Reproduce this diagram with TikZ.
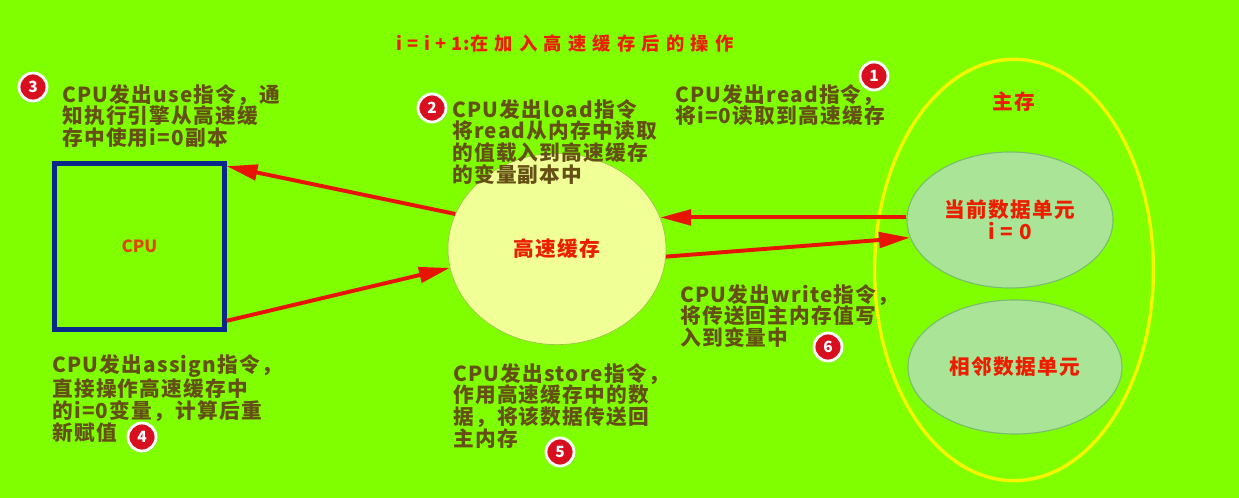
\documentclass[tikz,border=0pt]{standalone}
\usepackage{fontspec}
\setmainfont{Noto Sans CJK SC}
\newfontfamily\cjk[LetterSpace=6]{Noto Sans CJK SC}
\newfontfamily\cjkwide[LetterSpace=34]{Noto Sans CJK SC}
\usetikzlibrary{shapes,arrows.meta,positioning,shadows}
\definecolor{bggreen}{RGB}{128,255,0}
\definecolor{notebrown}{RGB}{100,80,20}
\definecolor{labelred}{RGB}{235,30,0}
\definecolor{arrowred}{RGB}{230,20,0}
\definecolor{numred}{RGB}{215,15,30}
\definecolor{cpuorange}{RGB}{220,70,0}
\definecolor{cpublue}{RGB}{10,40,140}
\definecolor{cachefill}{RGB}{240,255,150}
\definecolor{cacheborder}{RGB}{150,190,70}
\definecolor{cellfill}{RGB}{170,228,150}
\definecolor{cellborder}{RGB}{120,190,110}
\definecolor{memyellow}{RGB}{245,245,0}
\tikzstyle{note} = [font=\cjk\bfseries\fontsize{14.7}{15.5}\selectfont, text=notebrown, align=left, inner sep=0pt, anchor=north west]
\tikzstyle{redtext} = [font=\cjk\bfseries\fontsize{14.7}{15.5}\selectfont, text=labelred, align=center, inner sep=0pt]
\tikzstyle{num} = [circle, fill=numred, draw=white, line width=2pt, text=white, font=\bfseries\fontsize{11}{11}\selectfont, minimum size=0.7cm, inner sep=0pt, drop shadow={opacity=0.35,shadow xshift=1pt,shadow yshift=-1pt}]
\tikzstyle{cell} = [ellipse, draw=cellborder, fill=cellfill, line width=0.8pt]
\tikzstyle{flow} = [draw=arrowred, line width=2.8pt, ->]

\begin{document}
\begin{tikzpicture}[x=0.025cm, y=-0.025cm, >={Triangle[length=22pt,width=11pt]}]
		\fill[bggreen] (0,0) rectangle (1239,498);
		\useasboundingbox (0,0) rectangle (1239,498);
		
		\node(title)[redtext, font=\bfseries\fontsize{13}{15}\selectfont] at (565,43) {{\cjk i = i + 1:}{\cjkwide 在加入高速缓存后的操作}};
		
		\node(cpu)[draw=cpublue, line width=3pt, rectangle, minimum width=4.25cm, minimum height=4.15cm, text=cpuorange, font=\bfseries\fontsize{12}{12}\selectfont] at (139.5,246.5) {CPU};
		\node(cache)[ellipse, draw=cacheborder, fill=cachefill, minimum width=5.45cm, minimum height=4.78cm, redtext] at (557,249) {高速缓存};
		\node(mem)[ellipse, draw=memyellow, line width=2.4pt, minimum width=6.97cm, minimum height=10.53cm] at (1014,270) {};
		\node(memtitle)[redtext, below=0.85cm of mem.north] {主存};
		\node(cell1)[cell, minimum width=5.15cm, minimum height=3.4cm, redtext] at (1010,220) {当前数据单元\\i = 0};
		\node(cell2)[cell, minimum width=5.35cm, minimum height=3.35cm, redtext] at (1015,367) {相邻数据单元};
		
		\node(note1)[note] at (675,84) {CPU发出read指令，\\将i=0读取到高速缓存};
		\node(num1)[num] at (874,76) {1};
		\node(note2)[note] at (452,99) {CPU发出load指令\\将read从内存中读取\\的值载入到高速缓存\\的变量副本中};
		\node(num2)[num] at (432,108) {2};
		\node(note3)[note] at (62,84) {CPU发出use指令，通\\知执行引擎从高速缓\\存中使用i=0副本};
		\node(num3)[num] at (33,87) {3};
		\node(note4)[note] at (52,354) {CPU发出assign指令，\\直接操作高速缓存中\\的i=0变量，计算后重\\新赋值};
		\node(num4)[num] at (142,437) {4};
		\node(note5)[note] at (453,363) {CPU发出store指令，\\作用高速缓存中的数\\据，将该数据传送回\\主内存};
		\node(num5)[num] at (560,452) {5};
		\node(note6)[note] at (680,284) {CPU发出write指令，\\将传送回主内存值写\\入到变量中};
		\node(num6)[num] at (828,347) {6};
		
		\draw[flow] (cell1.west |- cache.17) -- (cache.17);
		\draw[flow] (cache.-4) -- (cell1.190);
		\draw[flow] (cache.161) -- ([yshift=-0.12cm]cpu.north east);
		\draw[flow] ([yshift=0.27cm]cpu.south east) -- (cache.190);
\end{tikzpicture}
\end{document}
